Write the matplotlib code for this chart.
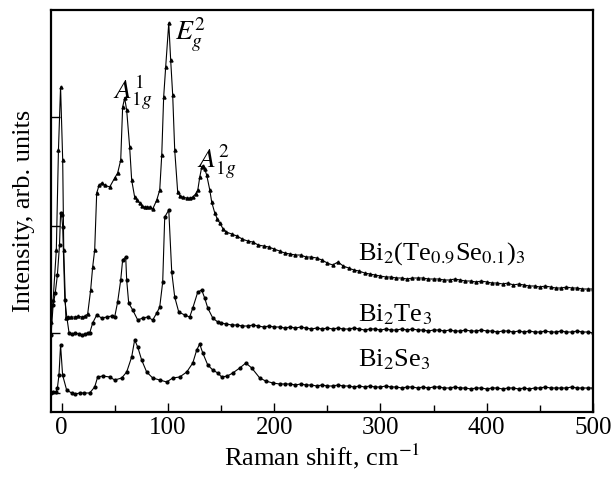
import matplotlib
matplotlib.use('Agg')
import numpy as np
import matplotlib.pyplot as plt

plt.rcParams['font.family'] = 'Liberation Serif'
plt.rcParams['mathtext.fontset'] = 'stix'

# Bi2(Te0.9Se0.1)3 -- peak region
mix_x = [-10, -8, -5, -3, -1, 1, 2, 4, 5.6, 9, 12.2, 15.5, 18.8, 22, 24.5, 27.3, 29.2, 31.1,
         33.0, 35.3, 37.7, 40.5, 45.2, 49.9, 52.7, 55.6, 57.4, 59.3, 61.2, 64.0, 65.9, 68.7,
         71, 73.4, 76, 78.2, 80.5, 82.9, 85.7, 89.5, 92.3, 94.2, 96.0, 97.9, 100.8, 102.6,
         104.5, 106.4, 109.2, 111.5, 113.9, 117.7, 120.5, 123.4, 126, 128.1, 130, 131.8,
         132.8, 134.6, 136.5, 139.4, 141.2, 144.1, 146.5, 148.8, 152]
mix_y = [90, 112, 162, 262, 325, 252, 162, 94, 95, 95, 95, 96, 95, 96, 98, 122, 145, 162,
         219, 227, 229, 227, 225, 234, 239, 252, 305, 314, 302, 265, 232, 215,
         212, 209, 206, 205, 205, 205, 203, 212, 222, 257, 315, 345, 389, 352,
         317, 262, 220, 216, 215, 214, 214, 215, 218, 222, 235, 245,
         246, 243, 237, 222, 210, 199, 193, 189, 183]
# tail, 155..500 step 5
mix_tail = [180, 178, 176, 173, 171, 170, 167, 166, 165, 163, 161, 159, 158, 157, 157, 155,
            155, 154, 152, 149, 147, 150, 146, 144, 142, 141, 139, 138, 137, 136, 135, 135,
            134, 134, 133, 134, 134, 134, 133, 133, 133, 132, 132, 133, 132, 131, 131, 130,
            131, 130, 129, 129, 128, 129, 127, 128, 127, 126, 126, 125, 126, 125, 124, 124,
            125, 124, 124, 123, 123, 123]

# Bi2Te3
te_x = [-10, -8, -6, -4, -2, -1, 0, 1, 3, 5, 7, 10, 13, 16, 19, 22, 24.5, 26.4, 29.2, 33.0,
        37.7, 42.4, 47.1, 49.9, 52.7, 55.6, 57.4, 60.3, 61.2, 63.1, 66.9, 71.6, 76.3, 81.0,
        85.7, 89.5, 92.3, 95.1, 97.0, 100.8, 103.6, 106.4, 110.2, 115.8, 120.5, 123.4, 128.1,
        131.8, 134.6, 137.5, 142.2, 146.9, 150]
te_y = [77, 107, 119, 137, 167, 199, 197, 185, 112, 94, 79, 78, 79, 78, 77, 78, 79, 79, 89, 97,
        94, 95, 96, 95, 110, 132, 152, 155, 132, 109, 102, 92, 94, 95,
        92, 99, 105, 130, 195, 202, 140, 115, 100, 97, 95, 104, 120,
        122, 114, 104, 94, 90, 89]
te_tail = [88, 87, 87, 86, 86, 87, 86, 85, 86, 85, 85, 84, 85, 84, 85, 84, 83, 84, 83, 84,
           83, 84, 83, 83, 84, 83, 82, 83, 83, 82, 83, 82, 82, 83, 82, 83, 82, 82, 81, 82,
           82, 81, 82, 81, 81, 82, 81, 81, 82, 81, 81, 80, 81, 81, 80, 81, 80, 81, 80, 80,
           81, 80, 80, 81, 80, 80, 81, 80, 80, 79]

# Bi2Se3
se_x = [-10, -8, -5, -4, -2.5, -1, 0.9, 4.7, 9.4, 13, 16.9, 21, 26.4, 31.1, 33.9, 38.6, 45.2,
        49.9, 56.5, 61.2, 65.9, 68.7, 71.6, 75.3, 80.0, 85.7, 92.3, 98.9, 104.5, 111.1, 117.7,
        123.4, 127.1, 129.9, 132.8, 137.5, 142.2, 146.9, 150.6, 156, 161.0, 167.6, 173.3,
        178.9, 186.4, 192, 198.7]
se_y = [19, 20, 20, 24, 37, 67, 37, 22, 19, 18, 19, 19, 19, 25, 35, 36, 35,
        32, 34, 40, 55, 72, 65, 52, 40, 34, 32, 30, 34, 35, 40,
        49, 62, 68, 59, 47, 42, 39, 35, 36, 39, 44, 49,
        44, 34, 31, 29]
# tail, 205..500 step 5
se_tail = [28, 28, 28, 27, 28, 27, 27, 26, 27, 26, 26, 27, 26, 26, 25, 26, 25, 26, 25, 25,
           26, 25, 25, 24, 25, 25, 24, 25, 24, 25, 25, 24, 24, 25, 24, 24, 23, 24, 24, 23,
           24, 24, 23, 24, 24, 23, 24, 23, 24, 24, 25, 24, 24, 24, 24, 25, 24, 24, 24, 24]

labels = ['Bi$_2$(Te$_{0.9}$Se$_{0.1}$)$_3$', 'Bi$_2$Te$_3$', 'Bi$_2$Se$_3$']
ytick_pos = [19, 79, 186, 295]

fig = plt.figure(figsize=(6.16, 4.8), dpi=100)
ax = fig.add_axes([0.0828, 0.1417, 0.8799, 0.8373])

mx = mix_x + list(np.arange(155, 501, 5))
my = mix_y + mix_tail
tx = te_x + list(np.arange(155, 501, 5))
ty = te_y + te_tail
sx = se_x + list(np.arange(205, 501, 5))
sy = se_y + se_tail

ax.plot(mx, my, '-^', color='k', lw=0.8, ms=2.2)
ax.plot(tx, ty, '-o', color='k', lw=0.8, ms=2.0)
ax.plot(sx, sy, '-o', color='k', lw=0.8, ms=2.0)

ax.set_xlim(-10, 500)
ax.set_ylim(0, 402)
ax.set_xticks([0, 100, 200, 300, 400, 500])
ax.set_xticks(np.arange(50, 500, 100), minor=True)
ax.set_yticks(ytick_pos)
ax.set_yticklabels([])
ax.tick_params(direction='in', length=6.5, width=1.0, labelsize=18, top=False, right=False)
ax.tick_params(which='minor', direction='in', length=5, width=1.0, top=False)
for s in ax.spines.values():
    s.set_linewidth(1.6)

ax.set_xlabel('Raman shift, cm$^{-1}$', fontsize=19, labelpad=2)
ax.set_ylabel('Intensity, arb. units', fontsize=19, labelpad=8)

ax.text(48, 320, '$A_{1g}^{1}$', fontsize=20, va='center')
ax.text(107, 378, '$E_{g}^{2}$', fontsize=20, va='center')
ax.text(127, 250, '$A_{1g}^{2}$', fontsize=20, va='center')

ax.text(279, 158, labels[0], fontsize=19, va='center')
ax.text(279, 97, labels[1], fontsize=19, va='center')
ax.text(279, 52, labels[2], fontsize=19, va='center')

fig.savefig('out.png', dpi=100)
